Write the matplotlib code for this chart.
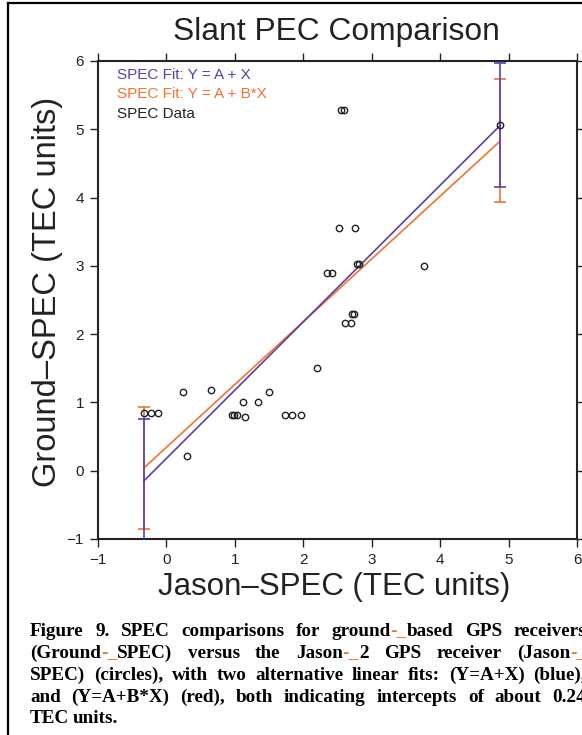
import matplotlib
matplotlib.use("Agg")
import matplotlib.pyplot as plt
from matplotlib.lines import Line2D

# data (TEC units)
jason_spec = [-0.33, -0.22, -0.12, 0.24, 0.30, 0.65, 0.96, 0.99, 1.03, 1.12, 1.15,
              1.34, 1.50, 1.74, 1.84, 1.97, 2.20, 2.35, 2.42, 2.52, 2.55, 2.60,
              2.61, 2.69, 2.71, 2.74, 2.75, 2.78, 2.81, 3.77, 4.88]
ground_spec = [0.85, 0.85, 0.85, 1.15, 0.21, 1.18, 0.82, 0.82, 0.82, 1.00, 0.79,
               1.00, 1.15, 0.81, 0.81, 0.81, 1.50, 2.89, 2.89, 3.56, 5.28, 5.28,
               2.16, 2.16, 2.30, 2.30, 3.56, 3.03, 3.03, 3.00, 5.07]

# fit lines, end points only
fit_x = [-0.33, 4.88]
fit_ax_y = [-0.15, 5.06]     # Y = A + X
fit_abx_y = [0.04, 4.83]     # Y = A + B*X
fit_ax_err = [0.91, 0.91]
fit_abx_err = [0.9, 0.9]

x_ticks = [-1, 0, 1, 2, 3, 4, 5, 6]
y_ticks = [-1, 0, 1, 2, 3, 4, 5, 6]

legend_labels = ["SPEC Fit: Y = A + X", "SPEC Fit: Y = A + B*X", "SPEC Data"]

caption_lines = [
    ["Figure", "9.", "SPEC", "comparisons", "for", "ground|-_|based", "GPS", "receivers"],
    ["(Ground|-_|SPEC)", "versus", "the", "Jason|-_|2", "GPS", "receiver", "(Jason|-_"],
    ["SPEC)", "(circles),", "with", "two", "alternative", "linear", "fits:", "(Y=A+X)", "(blue),"],
    ["and", "(Y=A+B*X)", "(red),", "both", "indicating", "intercepts", "of", "about", "0.24"],
    ["TEC", "units."],
]

BLUE = "#5b3fa9"
ORANGE = "#f2722f"
INK = "#222222"
W, H = 582, 735

plt.rcParams["font.family"] = ["Liberation Sans", "DejaVu Sans"]

fig = plt.figure(figsize=(W / 100, H / 100), dpi=100)
ax = fig.add_axes([98 / W, (H - 539) / H, 479 / W, 478 / H])


def fx(px):
    return px / W


def fy(py):
    return (H - py) / H


# fits with error bars at the ends, blue on top
ax.errorbar(fit_x, fit_abx_y, yerr=fit_abx_err, color=ORANGE, lw=1.2,
            elinewidth=1.2, capsize=4.5, capthick=1.2, zorder=2)
ax.errorbar(fit_x, fit_ax_y, yerr=fit_ax_err, color=BLUE, lw=1.2,
            elinewidth=1.2, capsize=4.5, capthick=1.2, zorder=3)

ax.plot(jason_spec, ground_spec, "o", mfc="none", mec=INK, ms=4.6, mew=1.0, zorder=4)

ax.set_xlim(-1, 6)
ax.set_ylim(-1, 6)
ax.set_xticks(x_ticks)
ax.set_yticks(y_ticks)
ax.tick_params(direction="out", length=6, width=1, colors=INK, labelsize=11,
               top=True, right=True, pad=4)
for s in ax.spines.values():
    s.set_linewidth(1.5)
    s.set_color(INK)

# legend as coloured text
for lab, col, yy in zip(legend_labels, [BLUE, ORANGE, INK], [79, 98.5, 118]):
    fig.text(fx(117), fy(yy), lab, color=col, fontsize=11, va="baseline")

# titles
fig.text(fx(336), fy(40), "Slant PEC Comparison", fontsize=22.9, color=INK,
         ha="center", va="baseline")
fig.text(fx(334), fy(595), "Jason\u2013SPEC (TEC units)", fontsize=22.5, color=INK,
         ha="center", va="baseline")
fig.text(fx(56), fy(292), "Ground\u2013SPEC (TEC units)", fontsize=23.5, color=INK,
         ha="center", va="baseline", rotation=90, rotation_mode="anchor")

# page frame
fig.add_artist(Line2D([fx(8), fx(8)], [fy(3), 0], color="black", lw=1.6))
fig.add_artist(Line2D([fx(8), 1], [fy(3), fy(3)], color="black", lw=1.6))

# justified caption
cap_kw = dict(family=["Liberation Serif", "DejaVu Serif"], weight="bold",
              fontsize=13.8, va="baseline")
renderer = fig.canvas.get_renderer()
left, right = 30, 586
baselines = [636, 658, 680, 702, 723]
for n, (words, base) in enumerate(zip(caption_lines, baselines)):
    pieces = []
    for w in words:
        segs = []
        for k, part in enumerate(w.split("|")):
            col = ORANGE if k % 2 == 1 else "black"
            t = fig.text(0, fy(base), part, color=col, **cap_kw)
            segs.append((t, t.get_window_extent(renderer).width))
        pieces.append(segs)
    widths = [sum(bw for _, bw in segs) for segs in pieces]
    if n < len(caption_lines) - 1:
        gap = (right - left - sum(widths)) / (len(pieces) - 1)
    else:
        gap = 3.5
    x = left
    for segs in pieces:
        for t, bw in segs:
            t.set_x(fx(x))
            x += bw
        x += gap

fig.savefig("out.png", dpi=100)
